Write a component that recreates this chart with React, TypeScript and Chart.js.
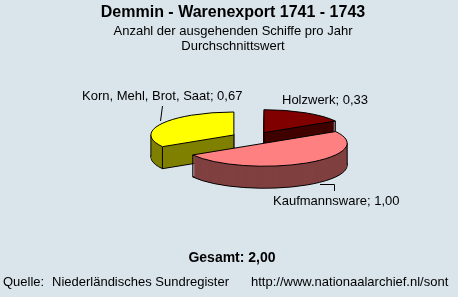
import React, { useEffect, useRef } from "react";
import { Chart, registerables } from "chart.js";

Chart.register(...registerables);

// ---- data ----
const categories = ["Holzwerk", "Kaufmannsware", "Korn, Mehl, Brot, Saat"];
const values = [0.33, 1.0, 0.67];
const valueLabels = ["0,33", "1,00", "0,67"];
const topColors = ["#800000", "#FF8080", "#FFFF00"];
const sideColors = ["#400000", "#804040", "#808000"];
const titleText = "Demmin - Warenexport 1741 - 1743";
const subtitleLines = ["Anzahl der ausgehenden Schiffe pro Jahr", "Durchschnittswert"];
const totalText = "Gesamt: 2,00";
const sourceLabel = "Quelle:";
const sourceName = "Niederländisches Sundregister";
const sourceUrl = "http://www.nationaalarchief.nl/sont";

// ---- style ----
const BG = "#D9E4EB";
const FONT = "'Liberation Sans', Arial, sans-serif";
const TILT = 0.277;
const DEPTH = 22;
const RADIUS = 83;
const EXPLODE = 22;

const background = {
  id: "background",
  beforeDraw(chart: any) {
    const ctx = chart.ctx;
    ctx.save();
    ctx.fillStyle = BG;
    ctx.fillRect(0, 0, chart.width, chart.height);
    ctx.restore();
  },
};

const pie3d = {
  id: "pie3d",
  beforeDatasetsDraw(chart: any) {
    const ctx: CanvasRenderingContext2D = chart.ctx;
    const meta = chart.getDatasetMeta(0);
    const slices = meta.data
      .map((arc: any, i: number) => {
        const p = arc.getProps(["x", "y", "startAngle", "endAngle", "outerRadius"], true);
        const off = arc.options.offset || 0;
        const mid = (p.startAngle + p.endAngle) / 2;
        return {
          i,
          cx: p.x + Math.cos(mid) * off,
          cy: p.y + Math.sin(mid) * off * TILT,
          rx: p.outerRadius,
          ry: p.outerRadius * TILT,
          a0: p.startAngle,
          a1: p.endAngle,
          top: arc.options.backgroundColor,
          side: sideColors[i],
        };
      })
      .sort((a: any, b: any) => a.cy - b.cy);

    ctx.save();
    ctx.lineWidth = 1;
    ctx.strokeStyle = "#000";
    ctx.lineJoin = "miter";
    for (const s of slices) {
      const path = (dy: number) => {
        ctx.beginPath();
        ctx.moveTo(s.cx, s.cy + dy);
        ctx.ellipse(s.cx, s.cy + dy, s.rx, s.ry, 0, s.a0, s.a1);
        ctx.closePath();
      };
      // bottom
      path(DEPTH);
      ctx.fillStyle = s.side;
      ctx.fill();
      ctx.stroke();
      for (let d = DEPTH - 1; d >= 1; d--) {
        path(d);
        ctx.fill();
      }
      // vertical edges
      const pts: [number, number][] = [];
      const pt = (a: number): [number, number] => [s.cx + s.rx * Math.cos(a), s.cy + s.ry * Math.sin(a)];
      if (Math.sin(s.a0) > 1e-6 || Math.cos(s.a0) < -1e-6) pts.push(pt(s.a0));
      if (Math.sin(s.a1) > 1e-6 || Math.cos(s.a1) > 1e-6) pts.push(pt(s.a1));
      if (Math.cos(s.a1) > 1e-6 || Math.cos(s.a0) < -1e-6) pts.push([s.cx, s.cy]);
      for (const t of [-Math.PI, 0, Math.PI, 2 * Math.PI, 3 * Math.PI]) {
        if (t > s.a0 && t < s.a1) pts.push(pt(t));
      }
      ctx.beginPath();
      for (const [x, y] of pts) {
        ctx.moveTo(x, y);
        ctx.lineTo(x, y + DEPTH);
      }
      ctx.stroke();
      // top
      path(0);
      ctx.fillStyle = s.top;
      ctx.fill();
      ctx.stroke();
    }
    ctx.restore();
    return false;
  },
};

const texts = {
  id: "texts",
  afterDraw(chart: any) {
    const ctx: CanvasRenderingContext2D = chart.ctx;
    ctx.save();
    ctx.fillStyle = "#000";
    ctx.textBaseline = "alphabetic";
    ctx.textAlign = "center";
    ctx.font = `bold 16px ${FONT}`;
    ctx.fillText(titleText, 233, 17);
    ctx.font = `13px ${FONT}`;
    ctx.fillText(subtitleLines[0], 233, 35);
    ctx.fillText(subtitleLines[1], 233, 50);
    ctx.font = `bold 14px ${FONT}`;
    ctx.fillText(totalText, 232, 262);

    ctx.textAlign = "left";
    ctx.font = `13px ${FONT}`;
    ctx.fillText(sourceLabel, 3, 286);
    ctx.fillText(sourceName, 52, 286);
    ctx.fillText(sourceUrl, 251, 286);

    // slice labels
    ctx.fillText(`${categories[2]}; ${valueLabels[2]}`, 82, 100);
    ctx.fillText(`${categories[0]}; ${valueLabels[0]}`, 282, 104);
    ctx.fillText(`${categories[1]}; ${valueLabels[1]}`, 273, 205);

    // leader lines
    ctx.strokeStyle = "#000";
    ctx.lineWidth = 1;
    ctx.beginPath();
    ctx.moveTo(162.5, 106);
    ctx.lineTo(160.5, 121);
    ctx.moveTo(320, 184.5);
    ctx.lineTo(334.5, 184.5);
    ctx.lineTo(334.5, 191);
    ctx.stroke();
    ctx.restore();
  },
};

export default function App() {
  const ref = useRef<HTMLCanvasElement>(null);
  useEffect(() => {
    const chart = new Chart(ref.current!, {
      type: "pie",
      data: {
        labels: categories,
        datasets: [
          {
            data: values,
            backgroundColor: topColors,
            borderColor: "#000",
            borderWidth: 1,
            offset: EXPLODE,
          },
        ],
      },
      options: {
        responsive: false,
        animation: false,
        events: [],
        radius: RADIUS,
        layout: { padding: { left: 48, right: 0, top: 0, bottom: 21 } },
        plugins: {
          legend: { display: false },
          tooltip: { enabled: false },
          title: { display: false },
        },
      } as any,
      plugins: [background, pie3d, texts],
    });
    return () => chart.destroy();
  }, []);
  return (
    <div style={{ position: "fixed", left: 0, top: 0, width: 458, height: 297, background: BG }}>
      <canvas ref={ref} width={458} height={297} style={{ display: "block", width: 458, height: 297 }} />
    </div>
  );
}
